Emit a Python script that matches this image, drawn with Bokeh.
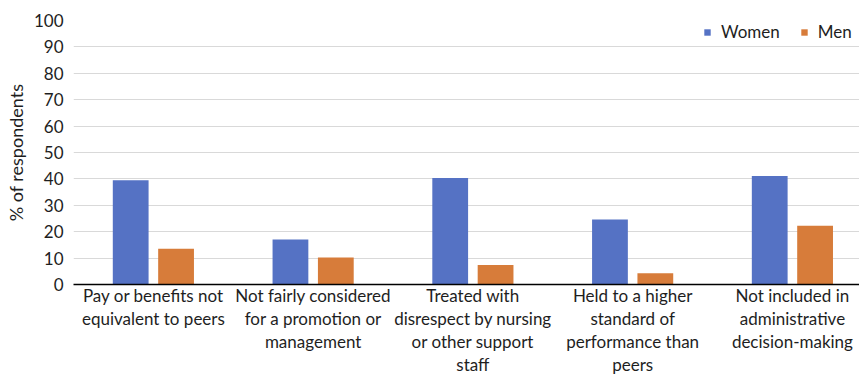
from bokeh.plotting import figure
from bokeh.models import ColumnDataSource, Legend, LegendItem, Range1d, FixedTicker
from bokeh.embed import file_html
from bokeh.resources import INLINE

# Survey categories (multi-line tick labels)
categories = [
    "Pay or benefits not\nequivalent to peers",
    "Not fairly considered\nfor a promotion or\nmanagement",
    "Treated with\ndisrespect by nursing\nor other support\nstaff",
    "Held to a higher\nstandard of\nperformance than\npeers",
    "Not included in\nadministrative\ndecision-making",
]
women = [39.5, 17.0, 40.3, 24.6, 41.1]
men = [13.5, 10.2, 7.4, 4.3, 22.3]
y_ticks = [0, 10, 20, 30, 40, 50, 60, 70, 80, 90, 100]

BLUE = "#5572C4"
ORANGE = "#D77C3A"
FONT = "Lato"
TEXT = "#1e1e1e"

centers = [i + 0.5 for i in range(len(categories))]
offset = 0.142
bar_w = 0.224

src_w = ColumnDataSource(dict(x=[c - offset for c in centers], top=women))
src_m = ColumnDataSource(dict(x=[c + offset for c in centers], top=men))

p = figure(width=859, height=377, output_backend="svg", toolbar_location=None,
           x_range=Range1d(0, 4.92), y_range=Range1d(0, 100),
           min_border_left=73, min_border_right=0, min_border_top=20,
           min_border_bottom=92)
p.outline_line_color = None
p.background_fill_color = "white"
p.border_fill_color = "white"

rw = p.vbar(x="x", top="top", width=bar_w, source=src_w, fill_color=BLUE, line_color=None)
rm = p.vbar(x="x", top="top", width=bar_w, source=src_m, fill_color=ORANGE, line_color=None)

# y axis
p.yaxis.ticker = FixedTicker(ticks=y_ticks)
p.yaxis.axis_line_color = None
p.yaxis.major_tick_line_color = None
p.yaxis.minor_tick_line_color = None
p.yaxis.major_tick_out = 0
p.yaxis.major_tick_in = 0
p.yaxis.minor_tick_out = 0
p.yaxis.minor_tick_in = 0
p.yaxis.major_label_text_font = FONT
p.yaxis.major_label_text_font_size = "17px"
p.yaxis.major_label_text_color = TEXT
p.yaxis.major_label_standoff = 10
p.yaxis.axis_label = "% of respondents"
p.yaxis.axis_label_text_font = FONT
p.yaxis.axis_label_text_font_size = "18px"
p.yaxis.axis_label_text_font_style = "normal"
p.yaxis.axis_label_text_color = TEXT
p.yaxis.axis_label_standoff = 4

# x axis with category labels
p.xaxis.ticker = FixedTicker(ticks=centers)
p.xaxis.major_label_overrides = {c: lab for c, lab in zip(centers, categories)}
p.xaxis.axis_line_color = "#000000"
p.xaxis.axis_line_width = 1.5
p.xaxis.major_tick_line_color = None
p.xaxis.minor_tick_line_color = None
p.xaxis.major_tick_out = 0
p.xaxis.major_tick_in = 0
p.xaxis.minor_tick_out = 0
p.xaxis.minor_tick_in = 0
p.xaxis.major_label_text_font = FONT
p.xaxis.major_label_text_font_size = "17px"
p.xaxis.major_label_text_color = TEXT
p.xaxis.major_label_text_line_height = 1.1
p.xaxis.major_label_standoff = 0

p.xgrid.grid_line_color = None
p.ygrid.grid_line_color = "#d9d9d9"
p.ygrid.grid_line_width = 1

legend = Legend(items=[LegendItem(label="Women", renderers=[rw]),
                       LegendItem(label="Men", renderers=[rm])],
                orientation="horizontal", location=(630, 242),
                glyph_width=8, glyph_height=8, label_height=17,
                label_standoff=10, spacing=20,
                padding=0, margin=0, label_text_font=FONT,
                label_text_font_size="17px", label_text_color=TEXT,
                border_line_color=None, background_fill_alpha=0)
p.add_layout(legend)

open("out.html", "w").write(file_html(p, INLINE))
